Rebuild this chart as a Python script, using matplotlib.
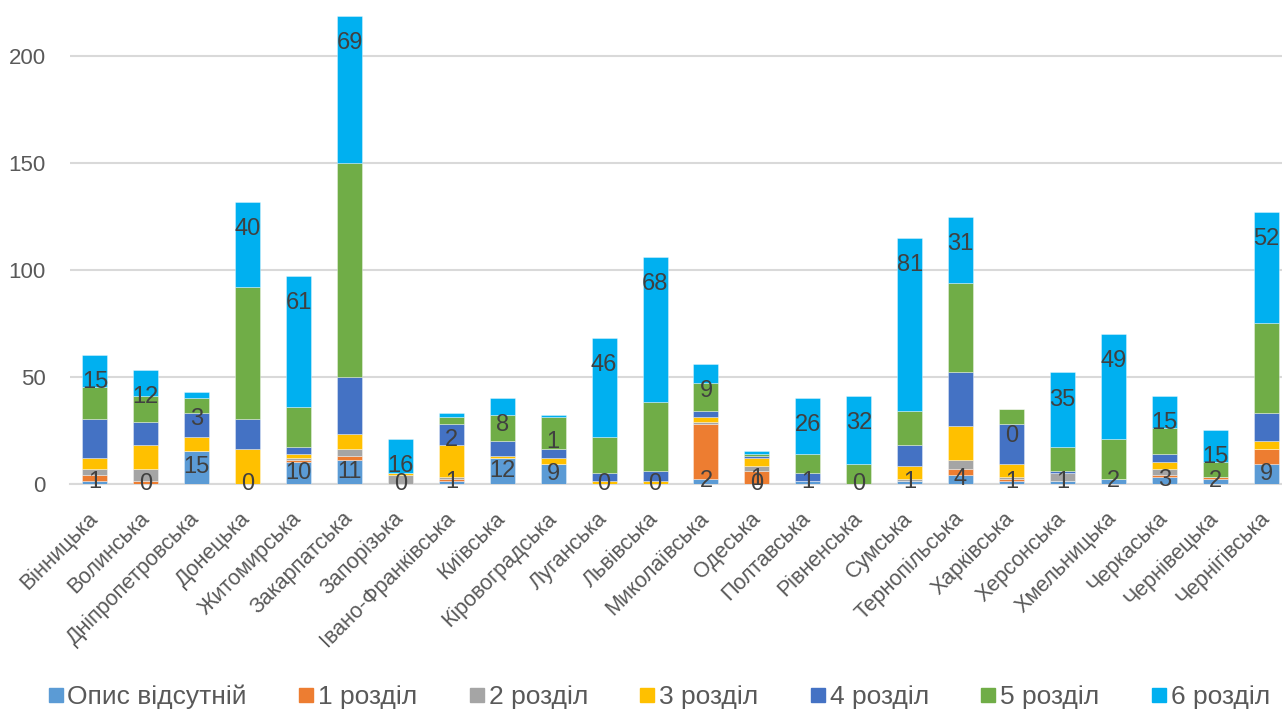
import matplotlib
matplotlib.use("Agg")
import matplotlib.pyplot as plt
from matplotlib.lines import Line2D
import numpy as np

plt.rcParams['font.family'] = ['Liberation Sans', 'DejaVu Sans']

regions = ["Вінницька", "Волинська", "Дніпропетровська", "Донецька", "Житомирська",
           "Закарпатська", "Запорізька", "Івано-Франківська", "Київська", "Кіровоградська",
           "Луганська", "Львівська", "Миколаївська", "Одеська", "Полтавська", "Рівненська",
           "Сумська", "Тернопільська", "Харківська", "Херсонська", "Хмельницька",
           "Черкаська", "Чернівецька", "Чернігівська"]

series_names = ["Опис відсутній", "1 розділ", "2 розділ", "3 розділ",
                "4 розділ", "5 розділ", "6 розділ"]

opys = [1, 0, 15, 0, 10, 11, 0, 1, 12, 9, 0, 0, 2, 0, 1, 0, 1, 4, 1, 1, 2, 3, 2, 9]
r1   = [3, 1, 0, 0, 1, 2, 0, 1, 0, 0, 0, 0, 26, 6, 0, 0, 0, 3, 1, 0, 0, 1, 1, 7]
r2   = [3, 6, 0, 0, 1, 3, 4, 1, 0, 0, 0, 0, 1, 2, 0, 0, 1, 4, 1, 4, 0, 3, 0, 0]
r3   = [5, 11, 7, 16, 2, 7, 1, 15, 1, 3, 1, 1, 2, 4, 0, 0, 6, 16, 6, 0, 0, 3, 0, 4]
r4   = [18, 11, 11, 14, 3, 27, 0, 10, 7, 4, 4, 5, 3, 1, 4, 0, 10, 25, 19, 1, 0, 4, 0, 13]
r5   = [15, 12, 7, 62, 19, 100, 0, 3, 12, 15, 17, 32, 13, 1, 9, 9, 16, 42, 7, 11, 19, 12, 7, 42]
r6   = [15, 12, 3, 40, 61, 69, 16, 2, 8, 1, 46, 68, 9, 1, 26, 32, 81, 31, 0, 35, 49, 15, 15, 52]

colors = ["#5B9BD5", "#ED7D31", "#A5A5A5", "#FFC000", "#4472C4", "#70AD47", "#00B0F0"]

data = [opys, r1, r2, r3, r4, r5, r6]

W, H = 1282, 713
fig = plt.figure(figsize=(W / 100, H / 100), dpi=100)
x0_px, x1_px = 69.5, 1291.5
y0_px, ytop_px = 483.5, 0.0
ax = fig.add_axes([x0_px / W, (H - y0_px) / H, (x1_px - x0_px) / W, (y0_px - ytop_px) / H])

x = np.arange(len(regions))
bottom = np.zeros(len(regions))
for vals, c in zip(data, colors):
    v = np.array(vals, dtype=float)
    ax.bar(x, v, width=0.49, bottom=bottom, color=c, edgecolor=(1, 1, 1, 0.5),
           linewidth=0.5, zorder=3)
    bottom += v

ax.set_xlim(-0.5, len(regions) - 0.5)
ax.set_ylim(0, y0_px / 2.136)
ax.set_yticks([0, 50, 100, 150, 200])
ax.yaxis.grid(True, color="#D9D9D9", linewidth=1.5, zorder=0)
ax.set_axisbelow(True)
for s in ["top", "right", "left"]:
    ax.spines[s].set_visible(False)
ax.spines["bottom"].set_color("#D9D9D9")
ax.spines["bottom"].set_linewidth(1.5)
ax.tick_params(axis="both", length=0, colors="#595959")
ax.tick_params(axis="y", pad=17, labelsize=16)
ax.set_xticks(x)
ax.set_xticklabels(regions, rotation=45, ha="right", rotation_mode="anchor", va="center")
ax.tick_params(axis="x", pad=23, labelsize=15.5)

# data labels: "Опис відсутній" centred, "6 розділ" inside end
lab_color = "#404040"
for i in range(len(regions)):
    ax.text(x[i], opys[i] / 2.0, str(opys[i]), ha="center", va="center",
            fontsize=17, color=lab_color, zorder=5)
    ax.annotate(str(r6[i]), xy=(x[i], bottom[i]), xytext=(0, -19.5),
                textcoords="offset points", ha="center", va="center",
                fontsize=17, color=lab_color, zorder=5)

handles = [Line2D([0], [0], marker="s", linestyle="none", markersize=9.5,
                  markerfacecolor=c, markeredgecolor=c) for c in colors]
fig.legend(handles, series_names, loc="center", bbox_to_anchor=(0.5144, 1 - 697 / H),
           ncol=7, frameon=False, fontsize=19, handlelength=0.5, handletextpad=0.2,
           columnspacing=2.0, labelcolor="#595959")

fig.savefig("out.png", dpi=100)
